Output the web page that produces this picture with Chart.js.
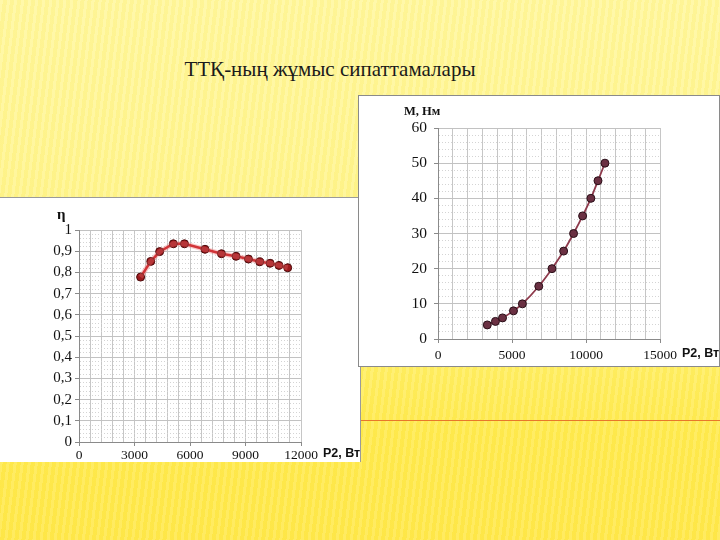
<!DOCTYPE html>
<html>
<head>
<meta charset="utf-8">
<script src="https://cdn.jsdelivr.net/npm/chart.js@4.4.1/dist/chart.umd.min.js"></script>
<style>
  html, body { margin: 0; padding: 0; }
  body {
    width: 720px; height: 540px; position: relative; overflow: hidden;
    background:
      repeating-linear-gradient(97deg, rgba(255,255,255,0.12) 0px, rgba(255,255,255,0.12) 3px, rgba(240,210,40,0.07) 3px, rgba(240,210,40,0.07) 7px),
      linear-gradient(180deg, #fff79e 0%, #fff58f 35%, #fff27c 58%, #ffee62 68%, #ffea4e 80%, #ffe84a 100%);
  }
  #title {
    position: absolute; left: 150px; top: 57px; width: 360px; text-align: center;
    font-family: "Liberation Serif", serif; font-size: 21px; color: #1a1a1a;
  }
  .panel { position: absolute; background: #fff; }
  #leftPanel { left: 0; top: 197px; width: 361px; height: 265px; border-top: 1px solid #9a9a9a; border-right: 1px solid #9a9a9a; box-sizing: border-box; }
  #rightPanel { left: 358px; top: 95px; width: 362px; height: 272px; border: 1px solid #8a8a8a; box-sizing: border-box; }
  #orangeLine { position: absolute; left: 361px; top: 420px; width: 359px; height: 1px; background: #e8782a; }
  canvas { position: absolute; left: 0; top: 0; }
</style>
</head>
<body>
<div id="title">ТТҚ-ның жұмыс сипаттамалары</div>
<div id="orangeLine"></div>
<div class="panel" id="leftPanel"><canvas id="etaChart" width="361" height="265"></canvas></div>
<div class="panel" id="rightPanel"><canvas id="torqueChart" width="362" height="272"></canvas></div>
<script>
// Output power P2, W (same points on both graphs)
const powerW = [3330, 3880, 4360, 5100, 5700, 6810, 7700, 8490, 9160, 9770, 10330, 10810, 11280];
// Efficiency
const efficiency = [0.778, 0.852, 0.898, 0.935, 0.935, 0.909, 0.888, 0.876, 0.863, 0.850, 0.843, 0.833, 0.822];
// Torque, N*m
const torqueNm = [4, 5, 6, 8, 10, 15, 20, 25, 30, 35, 40, 45, 50];

// Labelled tick values
const etaXTicks = [0, 3000, 6000, 9000, 12000];
const etaYTicks = ['0', '0,1', '0,2', '0,3', '0,4', '0,5', '0,6', '0,7', '0,8', '0,9', '1'];
const torqueXTicks = [0, 5000, 10000, 15000];
const torqueYTicks = [0, 10, 20, 30, 40, 50, 60];

const serif = '"Liberation Serif", "Times New Roman", serif';
const sans = '"Liberation Sans", Arial, sans-serif';

function points(ys) {
  return powerW.map((x, i) => ({ x: x, y: ys[i] }));
}

// draws the axis names next to the plot area
function axisNames(yName, yFont, yDx, yDy, xDy) {
  return {
    id: 'axisNames',
    afterDraw(chart) {
      const ctx = chart.ctx;
      const a = chart.chartArea;
      ctx.save();
      ctx.fillStyle = '#111';
      ctx.textBaseline = 'middle';
      ctx.textAlign = 'left';
      ctx.font = yFont;
      ctx.fillText(yName, a.left + yDx, a.top + yDy);
      ctx.font = 'bold 12.5px ' + sans;
      ctx.fillText('P2, Вт', a.right + 22, a.bottom + xDy);
      ctx.restore();
    }
  };
}

function makeChart(canvasId, opts) {
  const isMajorX = v => opts.xLabels.includes(v);
  return new Chart(document.getElementById(canvasId), {
    type: 'scatter',
    data: { datasets: opts.datasets },
    options: {
      responsive: false,
      animation: false,
      layout: { padding: { top: 32, right: opts.padRight, left: 0, bottom: 0 } },
      plugins: { legend: { display: false }, tooltip: { enabled: false } },
      scales: {
        x: {
          type: 'linear', min: 0, max: opts.xMax,
          afterFit(scale) { scale.height = opts.xHeight; },
          ticks: {
            stepSize: opts.xStep, autoSkip: false, maxRotation: 0,
            padding: opts.xPad,
            font: { family: serif, size: opts.xSize }, color: '#111',
            callback: v => isMajorX(v) ? String(v) : ''
          },
          grid: {
            color: '#c6c6c6', lineWidth: 1, tickLength: 4,
            tickColor: c => (c.tick && isMajorX(c.tick.value)) ? '#8a8a8a' : 'rgba(0,0,0,0)'
          },
          border: { color: '#8a8a8a' }
        },
        y: {
          type: 'linear', min: 0, max: opts.yMax,
          afterFit(scale) { scale.width = 79; },
          ticks: {
            stepSize: opts.yStep, autoSkip: false,
            padding: opts.yPad,
            font: { family: serif, size: opts.ySize }, color: '#111',
            callback: v => opts.yLabel(v)
          },
          grid: {
            lineWidth: 1, tickLength: 4,
            color: c => (c.tick && opts.yLabel(c.tick.value) !== '') ? '#c2c2c2' : '#d4d4d4',
            tickColor: c => (c.tick && opts.yLabel(c.tick.value) !== '') ? '#8a8a8a' : 'rgba(0,0,0,0)'
          },
          border: {
            color: '#8a8a8a',
            dash: c => (c.tick && opts.yLabel(c.tick.value) === '') ? [1, 2] : []
          }
        }
      }
    },
    plugins: [opts.names]
  });
}

makeChart('etaChart', {
  xMax: 12000, xStep: 600, xLabels: etaXTicks, xHeight: 21, xPad: 1, xSize: 13.5,
  yMax: 1, yStep: 0.02, yPad: 3, ySize: 15, padRight: 60,
  yLabel: v => {
    const k = Math.round(v * 100);
    return k % 10 === 0 ? etaYTicks[k / 10] : '';
  },
  names: axisNames('η', 'bold 15px ' + serif, -22, -15, 12),
  datasets: [
    {
      data: points(efficiency), showLine: true, pointRadius: 0,
      borderColor: 'rgba(235,110,110,0.35)', borderWidth: 5
    },
    {
      data: points(efficiency), showLine: true,
      borderColor: '#c4161c', borderWidth: 2.5,
      pointRadius: 4, pointBackgroundColor: '#9c1a1e', pointBorderColor: '#4a0a0a', pointBorderWidth: 1
    }
  ]
});

makeChart('torqueChart', {
  xMax: 15000, xStep: 1000, xLabels: torqueXTicks, xHeight: 29, xPad: 4, xSize: 13.5,
  yMax: 60, yStep: 2, yPad: 7, ySize: 15.5, padRight: 61,
  yLabel: v => torqueYTicks.includes(v) ? String(v) : '',
  names: axisNames('М, Нм', 'bold 12.5px ' + serif, -34, -16, 15),
  datasets: [
    {
      data: points(torqueNm), showLine: true,
      borderColor: '#8e3a4c', borderWidth: 1.8,
      tension: 0.4, cubicInterpolationMode: 'monotone',
      pointRadius: 4, pointBackgroundColor: '#6a3042', pointBorderColor: '#2a0f18', pointBorderWidth: 1
    }
  ]
});
</script>
</body>
</html>
